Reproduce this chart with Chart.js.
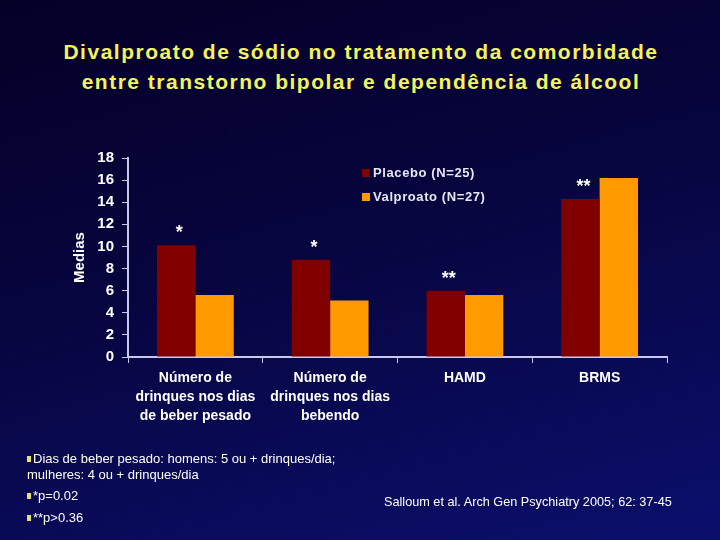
<!DOCTYPE html>
<html>
<head>
<meta charset="utf-8">
<script src="https://cdn.jsdelivr.net/npm/chart.js@4"></script>
<style>
  html, body { margin:0; padding:0; }
  body { width:720px; height:540px; overflow:hidden; position:relative;
         background: linear-gradient(165deg, #050026 0%, #07053f 45%, #0b0f6c 100%);
         font-family: "Liberation Sans", Arial, sans-serif; }
  #title { position:absolute; left:1px; top:37px; width:720px; text-align:center;
           color:#f3f35c; font-weight:bold; font-size:21px; line-height:30px; letter-spacing:1.5px; }
  #chartWrap { position:absolute; left:0; top:0; width:720px; height:540px; }
  .note { position:absolute; color:#ffffff; font-size:13px; line-height:16px; }
  .bul { display:inline-block; width:4px; height:6px; background:#e8e070; margin-right:2px; vertical-align:1px; }
</style>
</head>
<body>
<div id="title">Divalproato de sódio no tratamento da comorbidade<br>entre transtorno bipolar e dependência de álcool</div>
<div id="chartWrap"><canvas id="c" width="720" height="540"></canvas></div>
<div class="note" style="left:27px; top:451px;"><span class="bul"></span>Dias de beber pesado: homens: 5 ou + drinques/dia;<br>mulheres: 4 ou + drinques/dia</div>
<div class="note" style="left:27px; top:488px;"><span class="bul"></span>*p=0.02</div>
<div class="note" style="left:27px; top:510px;"><span class="bul"></span>**p&gt;0.36</div>
<div class="note" style="left:384px; top:494px; font-size:12.7px;">Salloum et al. Arch Gen Psychiatry 2005; 62: 37-45</div>
<script>
const categories = [
  ["Número de", "drinques nos dias", "de beber pesado"],
  ["Número de", "drinques nos dias", "bebendo"],
  ["HAMD"],
  ["BRMS"]
];
const placebo = [10.1, 8.8, 6.0, 14.3];
const valproato = [5.6, 5.1, 5.6, 16.2];
const significance = ["*", "*", "**", "**"];
const seriesLabels = ["Placebo (N=25)", "Valproato (N=27)"];
const yTicks = [0, 2, 4, 6, 8, 10, 12, 14, 16, 18];

const axisColor = "#c8c8ec";

const overlay = {
  id: "overlay",
  afterDatasetsDraw(chart) {
    const ctx = chart.ctx;
    ctx.save();
    // significance markers above placebo bars
    const meta = chart.getDatasetMeta(0);
    ctx.fillStyle = "#ffffff";
    ctx.font = "bold 18px 'Liberation Sans', Arial";
    ctx.textAlign = "center";
    ctx.textBaseline = "alphabetic";
    meta.data.forEach((bar, i) => {
      ctx.fillText(significance[i], bar.x + 3, bar.y - 7);
    });
    // legend
    const lx = 362, ly = [173, 197];
    ctx.font = "bold 13px 'Liberation Sans', Arial";
    if ("letterSpacing" in ctx) ctx.letterSpacing = "0.6px";
    ctx.textAlign = "left";
    ctx.textBaseline = "middle";
    chart.data.datasets.forEach((ds, i) => {
      ctx.fillStyle = ds.backgroundColor;
      ctx.fillRect(lx, ly[i] - 4, 8, 8);
      ctx.fillStyle = "#e6e6f5";
      ctx.fillText(ds.label, lx + 11, ly[i]);
    });
    ctx.restore();
  }
};

new Chart(document.getElementById("c"), {
  type: "bar",
  data: {
    labels: categories,
    datasets: [
      { label: seriesLabels[0], data: placebo, backgroundColor: "#800000" },
      { label: seriesLabels[1], data: valproato, backgroundColor: "#ff9900" }
    ]
  },
  options: {
    responsive: false,
    animation: false,
    devicePixelRatio: 1,
    layout: { padding: { left: 71, right: 53, top: 158, bottom: 113 } },
    datasets: { bar: { categoryPercentage: 0.57, barPercentage: 1.0 } },
    plugins: { legend: { display: false }, tooltip: { enabled: false } },
    scales: {
      x: {
        afterFit(s) { s.height = 70; },
        grid: { offset: true, drawOnChartArea: false, drawTicks: true, tickLength: 6, color: axisColor, lineWidth: 1 },
        border: { display: true, color: axisColor, width: 2 },
        ticks: { color: "#ffffff", font: { family: "'Liberation Sans', Arial", size: 14, weight: "bold", lineHeight: 1.35 }, padding: 6, maxRotation: 0, autoSkip: false }
      },
      y: {
        min: 0, max: 18,
        afterFit(s) { s.width = 57; },
        afterBuildTicks(s) { s.ticks = yTicks.map(v => ({ value: v })); },
        grid: { drawOnChartArea: false, drawTicks: true, tickLength: 6, color: axisColor },
        border: { display: true, color: axisColor, width: 2 },
        title: { display: true, text: "Medias", color: "#ffffff", font: { family: "'Liberation Sans', Arial", size: 15, weight: "bold" }, padding: 0 },
        ticks: { color: "#ffffff", font: { family: "'Liberation Sans', Arial", size: 15, weight: "bold" }, padding: 8 }
      }
    }
  },
  plugins: [overlay]
});
</script>
</body>
</html>
